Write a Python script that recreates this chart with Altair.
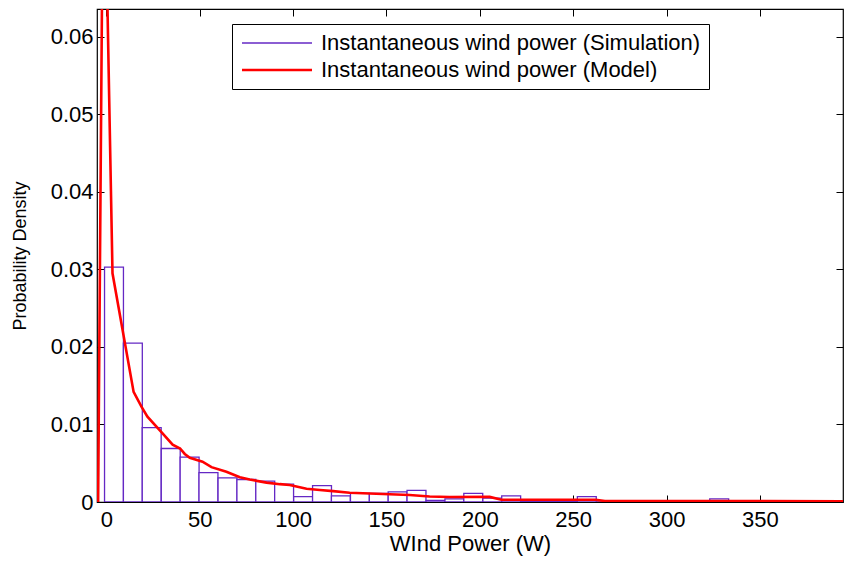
import altair as alt
import pandas as pd

# ---------------- data ----------------
bin_centers = [4.1, 14.2, 24.3, 34.5, 44.6, 54.7, 64.9, 75.0, 85.1, 95.2,
               105.4, 115.5, 125.6, 135.8, 145.9, 156.0, 166.1, 176.3, 186.4, 196.5,
               206.7, 216.8, 226.9, 237.1, 247.2, 257.3, 267.5, 277.6, 287.7, 297.8,
               308.0, 318.1, 328.2, 338.4, 348.5, 358.6, 368.8, 378.9, 389.0]
bin_width = 10.13
sim_density = [0.0303, 0.0205, 0.0096, 0.0069, 0.0058, 0.0038, 0.0031, 0.0029, 0.0027, 0.0023,
               0.0007, 0.0021, 0.0008, 0.0011, 0.0011, 0.0013, 0.0015, 0.0002, 0.0004, 0.0011,
               0.0005, 0.0008, 0.0001, 0.0001, 0.0001, 0.0007, 0.0, 0.0, 0.0, 0.0,
               0.0001, 0.0001, 0.0004, 0.0, 0.0, 0.0, 0.0, 0.0, 0.0001]

model_power = [-4.4, -1.5, 3.3, 14.6, 18.8, 22.0, 29.5, 35.5, 39.5, 42.0, 44.7, 51.5, 56.3,
               64.3, 71.5, 76.8, 85.8, 92.9, 98.2, 107.2, 114.3, 121.4, 130.3, 141.0,
               151.7, 162.4, 173.1, 183.8, 205.3, 211.6, 262.0, 267.0, 394.5]
model_density = [0.0, 0.0906, 0.0295, 0.0142, 0.0123, 0.0110, 0.0090, 0.0074, 0.0069, 0.0062,
                 0.0057, 0.0052, 0.0045, 0.0039, 0.0032, 0.0029, 0.0025, 0.0023, 0.0022,
                 0.0017, 0.00155, 0.0014, 0.0012, 0.0011, 0.0010, 0.0009, 0.0007, 0.00064,
                 0.00066, 0.0003, 0.0003, 0.00012, 0.0001]

x_ticks = [0, 50, 100, 150, 200, 250, 300, 350]
y_ticks = [0, 0.01, 0.02, 0.03, 0.04, 0.05, 0.06]
series_names = ["Instantaneous wind power (Simulation)", "Instantaneous wind power (Model)"]
series_colors = ["#6428c4", "#ff0000"]
x_title = "WInd Power (W)"
y_title = "Probability Density"

# ---------------- tables ----------------
hist_df = pd.DataFrame({
    "left": [c - bin_width / 2 for c in bin_centers],
    "right": [c + bin_width / 2 for c in bin_centers],
    "density": sim_density,
    "series": series_names[0],
})
model_df = pd.DataFrame({
    "power": model_power,
    "density": model_density,
    "series": series_names[1],
})

FONT = "Liberation Sans"
x_scale = alt.Scale(domain=[-5, 394.5], nice=False, zero=False)
y_scale = alt.Scale(domain=[0, 0.0636], nice=False, zero=False)
color_scale = alt.Scale(domain=series_names, range=series_colors)

legend = alt.Legend(
    orient="none", legendX=135, legendY=15, title=None,
    symbolType="stroke", symbolSize=4900,
    symbolStrokeWidth={"expr": "datum.value === '" + series_names[1] + "' ? 2.6 : 1.3"},
    labelFont=FONT, labelFontSize=22, labelColor="black",
    padding=8, symbolOffset=26, labelOffset=33, rowPadding=5,
    strokeColor="black", fillColor="white", labelLimit=1000,
)

tick_common = dict(offset=-7, tickSize=7, domain=False, tickColor="black",
                   tickWidth=1, grid=False)

hist = alt.Chart(hist_df).mark_rect(fill="white", strokeWidth=1.3, clip=True).encode(
    x=alt.X("left:Q", scale=x_scale,
            axis=alt.Axis(orient="bottom", values=x_ticks, title=x_title,
                          labelPadding=7, titlePadding=3, **tick_common)),
    x2="right:Q",
    y=alt.Y("density:Q", scale=y_scale,
            axis=alt.Axis(orient="left", values=y_ticks, format=".2~f", title=y_title,
                          labelPadding=4, titlePadding=21, titleFontSize=18, **tick_common)),
    y2=alt.datum(0),
    stroke=alt.Stroke("series:N", scale=color_scale, legend=legend),
)

line = alt.Chart(model_df).mark_line(strokeWidth=2.6, clip=True).encode(
    x=alt.X("power:Q", scale=x_scale,
            axis=alt.Axis(orient="top", values=x_ticks, labels=False, title=None, **tick_common)),
    y=alt.Y("density:Q", scale=y_scale,
            axis=alt.Axis(orient="right", values=y_ticks, labels=False, title=None, **tick_common)),
    stroke=alt.Stroke("series:N", scale=color_scale, legend=legend),
)

chart = alt.layer(hist, line).resolve_axis(
    x="independent", y="independent"
).properties(
    width=746, height=493,
    padding={"left": 97, "top": 9, "right": 1, "bottom": 59},
    autosize=alt.AutoSizeParams(type="none"),
    background="white",
).configure_view(
    stroke="black", strokeWidth=1.2
).configure_axis(
    labelFont=FONT, labelFontSize=22, labelColor="black",
    titleFont=FONT, titleFontSize=22, titleColor="black", titleFontWeight="normal",
)

chart.save("out.html", embed_options={"renderer": "svg", "actions": False})
